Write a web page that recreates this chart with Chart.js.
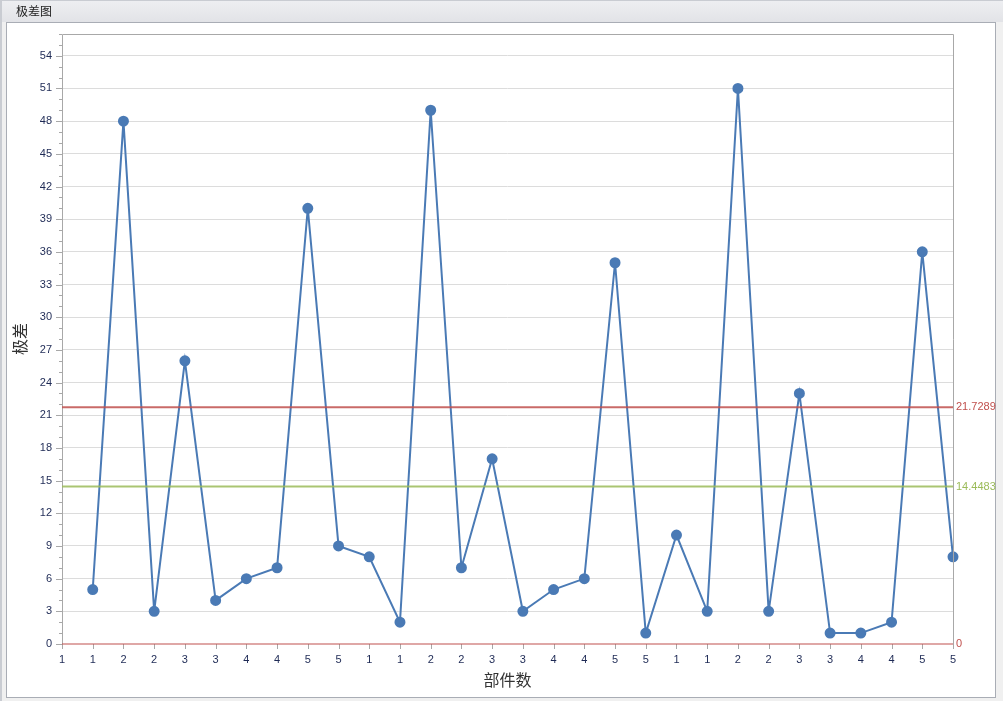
<!DOCTYPE html>
<html>
<head>
<meta charset="utf-8">
<script src="https://cdn.jsdelivr.net/npm/chart.js@4.4.1/dist/chart.umd.min.js"></script>
<style>
    html, body { margin: 0; padding: 0; background: #fff; }
    #wrap { position: relative; width: 1003px; height: 701px; }
    canvas { position: absolute; left: 0; top: 0; }
</style>
</head>
<body>
<div id="wrap"><canvas id="rangeChart" width="1003" height="701"></canvas></div>
<script>
// x tick labels (part numbers)
const partLabels = ["1", "1", "2", "2", "3", "3", "4", "4", "5", "5",
                    "1", "1", "2", "2", "3", "3", "4", "4", "5", "5",
                    "1", "1", "2", "2", "3", "3", "4", "4", "5", "5"];
// range values, first slot has no sample
const rangeValues = [null, 5, 48, 3, 26, 4, 6, 7, 40, 9, 8, 2, 49, 7, 17, 3, 5, 6, 35,
                     1, 10, 3, 51, 3, 23, 1, 1, 2, 36, 8];
// control limits: UCL, CL, LCL
const limitValues = [21.7289, 14.4483, 0];
const limitLabels = ["21.7289", "14.4483", "0"];
const limitColors = ["#c0504d", "#9bbb59", "#c0504d"];

const title = "极差图";
const xTitle = "部件数";
const yTitle = "极差";

const lineColor = "#4a7ab5";
const fontName = "'Noto Sans CJK SC', 'DejaVu Sans', sans-serif";
const tickFont = "'Liberation Sans', Arial, sans-serif";

// window frame + title bar
const framePlugin = {
    id: "frame",
    beforeDraw(chart) {
        const ctx = chart.ctx;
        ctx.save();
        ctx.fillStyle = "#f0f0f0";
        ctx.fillRect(0, 0, 1003, 701);
        const g = ctx.createLinearGradient(0, 0, 0, 22);
        g.addColorStop(0, "#eeeff2");
        g.addColorStop(1, "#e2e3e7");
        ctx.fillStyle = g;
        ctx.fillRect(0, 0, 1003, 22);
        ctx.fillStyle = "#c9ccd2";
        ctx.fillRect(0, 0, 1003, 1);
        ctx.fillRect(0, 0, 2, 701);
        ctx.fillStyle = "#ffffff";
        ctx.fillRect(6, 22, 990, 675);
        ctx.strokeStyle = "#a9adb5";
        ctx.lineWidth = 1;
        ctx.strokeRect(6.5, 22.5, 989, 675);
        ctx.fillStyle = "#222";
        ctx.font = "12px " + fontName;
        ctx.textBaseline = "middle";
        ctx.fillText(title, 16, 11);
        ctx.restore();
    },
    afterDraw(chart) {
        const ctx = chart.ctx;
        const area = chart.chartArea;
        const y = chart.scales.y;
        const x = chart.scales.x;
        ctx.save();
        // plot border
        ctx.strokeStyle = "#a8a8a8";
        ctx.lineWidth = 1;
        ctx.beginPath();
        ctx.moveTo(area.left + 0.5, area.bottom);
        ctx.lineTo(area.left + 0.5, area.top + 0.5);
        ctx.lineTo(area.right + 0.5, area.top + 0.5);
        ctx.lineTo(area.right + 0.5, area.bottom);
        ctx.stroke();
        // y ticks, major every 3
        for (let v = 0; v <= y.max; v++) {
            const py = Math.round(y.getPixelForValue(v)) + 0.5;
            const len = v % 3 === 0 ? 6 : 3;
            ctx.beginPath();
            ctx.moveTo(area.left - len, py);
            ctx.lineTo(area.left, py);
            ctx.stroke();
        }
        // x ticks
        for (let i = 0; i < partLabels.length; i++) {
            const px = Math.round(x.getPixelForValue(i)) + 0.5;
            ctx.beginPath();
            ctx.moveTo(px, area.bottom);
            ctx.lineTo(px, area.bottom + 5);
            ctx.stroke();
        }
        // limit lines
        ctx.lineWidth = 2;
        ctx.font = "11px " + tickFont;
        ctx.textBaseline = "middle";
        for (let i = 0; i < limitValues.length; i++) {
            const py = y.getPixelForValue(limitValues[i]);
            ctx.strokeStyle = limitColors[i];
            ctx.globalAlpha = i === 2 ? 0.5 : 0.85;
            ctx.beginPath();
            ctx.moveTo(area.left, py);
            ctx.lineTo(area.right, py);
            ctx.stroke();
            ctx.globalAlpha = 1;
            ctx.fillStyle = limitColors[i];
            ctx.fillText(limitLabels[i], area.right + 3, py);
        }
        ctx.restore();
    }
};

new Chart(document.getElementById("rangeChart"), {
    type: "line",
    data: {
        labels: partLabels,
        datasets: [{
            data: rangeValues,
            borderColor: lineColor,
            backgroundColor: lineColor,
            borderWidth: 2,
            pointRadius: 4.5,
            pointHoverRadius: 4.5,
            tension: 0,
            clip: false
        }]
    },
    options: {
        responsive: false,
        animation: false,
        layout: { padding: { top: 34, left: 0, right: 0, bottom: 0 } },
        plugins: {
            legend: { display: false },
            tooltip: { enabled: false }
        },
        scales: {
            x: {
                type: "category",
                offset: false,
                grid: { display: false, drawTicks: false },
                border: { display: false },
                ticks: {
                    autoSkip: false,
                    maxRotation: 0,
                    padding: 9,
                    color: "#1e2a55",
                    font: { size: 11, family: tickFont }
                },
                title: {
                    display: true,
                    text: xTitle,
                    color: "#333",
                    padding: { top: 2, bottom: 11 },
                    font: { size: 16, family: fontName }
                },
                afterFit(scale) { scale.height = 57; }
            },
            y: {
                min: 0,
                max: 56,
                grid: {
                    drawTicks: false,
                    color: ctx => (ctx.tick.value % 3 === 0 && ctx.tick.value > 0) ? "#dcdcdc" : "rgba(0,0,0,0)"
                },
                border: { display: false },
                ticks: {
                    stepSize: 1,
                    autoSkip: false,
                    padding: 10,
                    color: "#1e2a55",
                    font: { size: 11, family: tickFont },
                    callback: v => (v % 3 === 0 ? String(v) : "")
                },
                title: {
                    display: true,
                    text: yTitle,
                    color: "#333",
                    padding: { top: 10, bottom: 0 },
                    font: { size: 16, family: fontName }
                },
                afterFit(scale) { scale.width = 62; }
            },
            right: {
                position: "right",
                min: 0,
                max: 56,
                grid: { display: false, drawTicks: false },
                border: { display: false },
                ticks: { display: false },
                afterFit(scale) { scale.width = 50; }
            }
        }
    },
    plugins: [framePlugin]
});
</script>
</body>
</html>
